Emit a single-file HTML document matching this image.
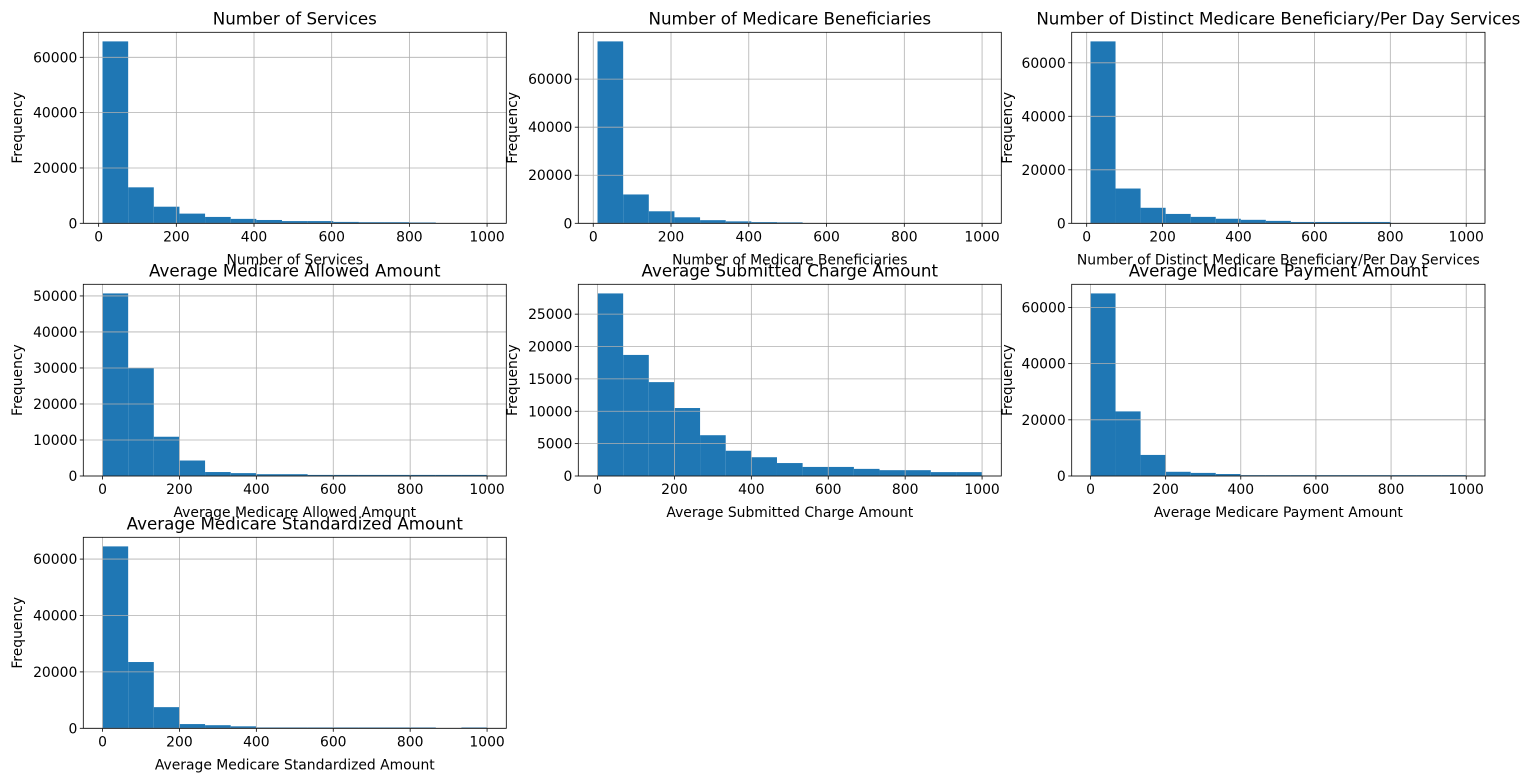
<!DOCTYPE html>
<html><head><meta charset="utf-8">
<style>
html,body{margin:0;padding:0;background:#fff;}
svg{display:block;font-family:"DejaVu Sans","Liberation Sans",sans-serif;}
</style></head>
<body>
<svg id="fig" width="1535" height="781" xmlns="http://www.w3.org/2000/svg"></svg>
<script>
const titles = ["Number of Services","Number of Medicare Beneficiaries","Number of Distinct Medicare Beneficiary/Per Day Services","Average Medicare Allowed Amount","Average Submitted Charge Amount","Average Medicare Payment Amount","Average Medicare Standardized Amount"];
const dataMin = [10,11,10,0,0,0,0];
const dataMax = [1000,1000,1000,1000,1000,1000,1000];
const countsServices = [65750,13000,6000,3500,2300,1600,1200,800,800,500,400,400,300,100,100];
const countsBenef = [75700,12000,5000,2500,1300,800,500,400,100,50,30,20,20,10,10];
const countsDistinct = [68000,13000,5800,3500,2400,1700,1300,900,500,500,500,500,0,0,0];
const countsAllowed = [50700,30000,10900,4300,1100,800,500,500,300,300,300,300,300,300,300];
const countsSubmitted = [28200,18700,14500,10500,6300,3900,2900,2000,1400,1400,1100,900,900,600,600];
const countsPayment = [65000,23000,7500,1500,1100,700,300,300,300,300,300,300,300,300,300];
const countsStandard = [64500,23500,7500,1500,1100,700,300,300,300,300,300,300,300,0,300];
const allCounts = [countsServices,countsBenef,countsDistinct,countsAllowed,countsSubmitted,countsPayment,countsStandard];
const yTickStep = [20000,20000,20000,10000,5000,20000,20000];
const xTicks = [0,200,400,600,800,1000];

const colL=[83.3,578.3,1071.7], colR=[506.3,1001.3,1485];
const rowT=[32.3,284.3,537.3], rowB=[223.3,476,728.3];
const ylabX=[17,512,1007];
const NS="http://www.w3.org/2000/svg";
const svg=document.getElementById('fig');
function mk(tag,attrs,parent){const e=document.createElementNS(NS,tag);for(const k in attrs)e.setAttribute(k,attrs[k]);(parent||svg).appendChild(e);return e;}

allCounts.forEach((counts,i)=>{
  const r=Math.floor(i/3), c=i%3;
  const L=colL[c],R=colR[c],T=rowT[r],B=rowB[r];
  const g=mk('g',{});
  
  
  const dmin=dataMin[i],dmax=dataMax[i],span=dmax-dmin;
  const x0=dmin-0.05*span,x1=dmax+0.05*span;
  const ymax=Math.max(...counts)*1.05;
  const X=v=>L+(v-x0)/(x1-x0)*(R-L);
  const Y=v=>B-v/ymax*(B-T);
  const n=counts.length,bw=span/n;
  counts.forEach((cnt,k)=>{
    if(cnt<=0)return;
    const xa=X(dmin+k*bw),xb=X(dmin+(k+1)*bw);
    const b=mk('rect',{x:xa,y:Y(cnt),width:xb-xa,height:B-Y(cnt),fill:'#1f77b4'},g);
    
    
  });
  // grid + ticks
  xTicks.forEach(t=>{
    const x=X(t);
    mk('line',{x1:x,x2:x,y1:T,y2:B,stroke:'#b0b0b0','stroke-width':0.8},g);
    mk('line',{x1:x,x2:x,y1:B,y2:B+3.5,stroke:'#000','stroke-width':0.8},g);
    const tl=mk('text',{x:x,y:B+18,'font-size':13.9,'text-anchor':'middle',fill:'#000'},g);
    tl.textContent=t;
    
    
  });
  for(let t=0;t<=ymax;t+=yTickStep[i]){
    const y=Y(t);
    mk('line',{x1:L,x2:R,y1:y,y2:y,stroke:'#b0b0b0','stroke-width':0.8},g);
    mk('line',{x1:L-3.5,x2:L,y1:y,y2:y,stroke:'#000','stroke-width':0.8},g);
    const tl=mk('text',{x:L-6,y:y+5,'font-size':13.9,'text-anchor':'end',fill:'#000'},g);
    tl.textContent=t;
    
    
  }
  mk('rect',{x:L,y:T,width:R-L,height:B-T,fill:'none',stroke:'#000','stroke-width':0.8},g);
  const tt=mk('text',{x:(L+R)/2,y:T-8,'font-size':16.7,'text-anchor':'middle',fill:'#000'},g);
  tt.textContent=titles[i];
  
  
  const xl=mk('text',{x:(L+R)/2,y:B+41,'font-size':13.9,'text-anchor':'middle',fill:'#000'},g);
  xl.textContent=titles[i];
  
  
  const yc=(T+B)/2, yx=ylabX[c]+5;
  const yl=mk('text',{x:yx,y:yc,'font-size':13.9,'text-anchor':'middle',fill:'#000',transform:`rotate(-90 ${yx} ${yc})`},g);
  yl.textContent='Frequency';
  
  
});
</script>
</body></html>
